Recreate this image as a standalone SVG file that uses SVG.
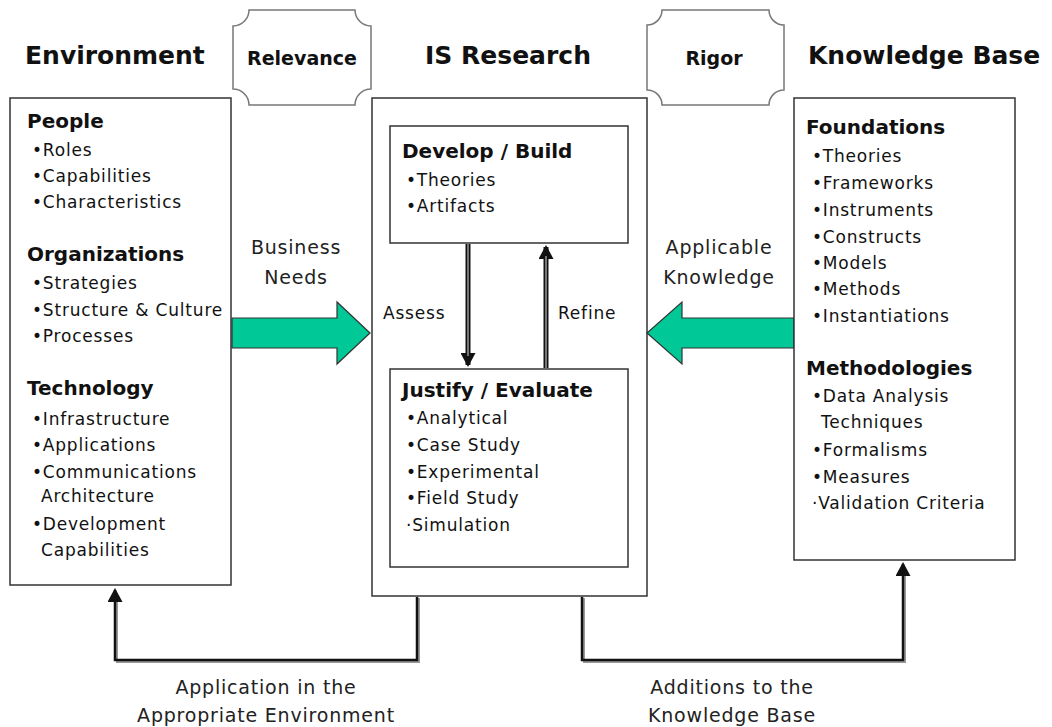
<svg xmlns="http://www.w3.org/2000/svg" width="1052" height="727" viewBox="0 0 1052 727">
<defs>
<style>
.t{font-family:"DejaVu Sans","Liberation Sans",sans-serif;fill:#111}
.h1{font-size:25px;font-weight:bold}
.h2{font-size:20px;font-weight:bold}
.b{font-size:17px;letter-spacing:0.8px}
.lbl{font-size:19px;fill:#222;letter-spacing:0.8px}
.box{fill:#fff;stroke:#333;stroke-width:1.5}
.plq{fill:#fff;stroke:#777;stroke-width:1.5}
.gr{fill:none;stroke:#999;stroke-width:2}
.bk{fill:none;stroke:#111;stroke-width:2.5}
.dbl{fill:none;stroke:#111;stroke-width:5}
.mid{fill:none;stroke:#bbb;stroke-width:1.2}
.big{fill:#00C896;stroke:#333;stroke-width:1.2}
</style>
<marker id="ah" markerWidth="15" markerHeight="15" refX="12" refY="7.5" orient="auto" markerUnits="userSpaceOnUse">
<path d="M0,0 L14,7.5 L0,15 Z" fill="#111"/>
</marker>
</defs>
<rect width="1052" height="727" fill="#fff"/>

<g id="titles">
<text class="t h1" x="25" y="64">Environment</text>
<text class="t h1" x="508" y="64" text-anchor="middle">IS Research</text>
<text class="t h1" x="808" y="64">Knowledge Base</text>
</g>

<g id="relevance">
<path class="plq" d="M249,10 H355 A16,16 0 0 0 371,26 V89 A16,16 0 0 0 355,105 H249 A16,16 0 0 0 233,89 V26 A16,16 0 0 0 249,10 Z"/>
<text class="t" x="302" y="65" text-anchor="middle" font-size="19" font-weight="bold">Relevance</text>
</g>

<g id="rigor">
<path class="plq" d="M662,10 H769 A15,15 0 0 0 784,25 V90 A15,15 0 0 0 769,105 H662 A15,15 0 0 0 647,90 V25 A15,15 0 0 0 662,10 Z"/>
<text class="t" x="714" y="65" text-anchor="middle" font-size="19" font-weight="bold">Rigor</text>
</g>

<g id="connectors">
<!-- left feedback -->
<path class="gr" d="M419,598 V662 H117 V598"/>
<path class="bk" d="M417,597 V660 H115 V590" marker-end="url(#ah)"/>
<!-- right feedback -->
<path class="gr" d="M584,598 V662 H905 V575"/>
<path class="bk" d="M582,597 V660 H903 V564" marker-end="url(#ah)"/>
<!-- assess / refine -->
<path class="dbl" d="M468,244 V365" marker-end="url(#ah)"/>
<path class="mid" d="M468,244 V356"/>
<path class="dbl" d="M546,368 V247" marker-end="url(#ah)"/>
<path class="mid" d="M546,368 V256"/>
<!-- big arrows -->
<path class="big" d="M232,318 H337 V302 L370,333 L337,364 V348 H232 Z"/>
<path class="big" d="M794,318 H682 V302 L647,333 L682,364 V348 H794 Z"/>
</g>

<g id="environment">
<rect class="box" x="10" y="98" width="221" height="487"/>
<text class="t h2" x="27" y="128">People</text>
<text class="t b" x="32" y="156">•Roles</text>
<text class="t b" x="32" y="182">•Capabilities</text>
<text class="t b" x="32" y="208">•Characteristics</text>
<text class="t h2" x="27" y="261">Organizations</text>
<text class="t b" x="32" y="289">•Strategies</text>
<text class="t b" x="32" y="316">•Structure &amp; Culture</text>
<text class="t b" x="32" y="342">•Processes</text>
<text class="t h2" x="27" y="395">Technology</text>
<text class="t b" x="32" y="425">•Infrastructure</text>
<text class="t b" x="32" y="451">•Applications</text>
<text class="t b" x="32" y="478">•Communications</text>
<text class="t b" x="41" y="502">Architecture</text>
<text class="t b" x="32" y="530">•Development</text>
<text class="t b" x="41" y="556">Capabilities</text>
</g>

<g id="is-research">
<rect class="box" x="372" y="98" width="275" height="498" style="fill:none"/>
</g>

<g id="develop">
<rect class="box" x="390" y="126" width="238" height="117"/>
<text class="t h2" x="402" y="158">Develop / Build</text>
<text class="t b" x="406" y="186">•Theories</text>
<text class="t b" x="406" y="212">•Artifacts</text>
</g>

<g id="justify">
<rect class="box" x="390" y="369" width="238" height="198"/>
<text class="t h2" x="402" y="397">Justify / Evaluate</text>
<text class="t b" x="406" y="424">•Analytical</text>
<text class="t b" x="406" y="451">•Case Study</text>
<text class="t b" x="406" y="478">•Experimental</text>
<text class="t b" x="406" y="504">•Field Study</text>
<text class="t b" x="406" y="531">·Simulation</text>
</g>

<g id="knowledge-base">
<rect class="box" x="794" y="98" width="221" height="462"/>
<text class="t h2" x="806" y="134">Foundations</text>
<text class="t b" x="812" y="162">•Theories</text>
<text class="t b" x="812" y="189">•Frameworks</text>
<text class="t b" x="812" y="216">•Instruments</text>
<text class="t b" x="812" y="243">•Constructs</text>
<text class="t b" x="812" y="269">•Models</text>
<text class="t b" x="812" y="295">•Methods</text>
<text class="t b" x="812" y="322">•Instantiations</text>
<text class="t h2" x="806" y="375">Methodologies</text>
<text class="t b" x="812" y="402">•Data Analysis</text>
<text class="t b" x="821" y="428">Techniques</text>
<text class="t b" x="812" y="456">•Formalisms</text>
<text class="t b" x="812" y="483">•Measures</text>
<text class="t b" x="812" y="509">·Validation Criteria</text>
</g>

<g id="labels">
<text class="t lbl" x="296" y="254" text-anchor="middle">Business</text>
<text class="t lbl" x="296" y="284" text-anchor="middle">Needs</text>
<text class="t lbl" x="719" y="254" text-anchor="middle">Applicable</text>
<text class="t lbl" x="719" y="284" text-anchor="middle">Knowledge</text>
<text class="t b" x="383" y="319">Assess</text>
<text class="t b" x="558" y="319">Refine</text>
<text class="t lbl" x="266" y="694" text-anchor="middle">Application in the</text>
<text class="t lbl" x="266" y="722" text-anchor="middle">Appropriate Environment</text>
<text class="t lbl" x="732" y="694" text-anchor="middle">Additions to the</text>
<text class="t lbl" x="732" y="722" text-anchor="middle">Knowledge Base</text>
</g>
</svg>
